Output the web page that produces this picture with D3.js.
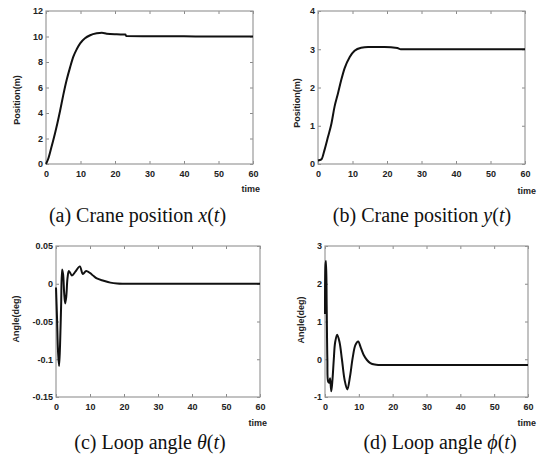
<!DOCTYPE html>
<html>
<head>
<meta charset="utf-8">
<script src="https://cdn.jsdelivr.net/npm/d3@7/dist/d3.min.js"></script>
<style>
    body { margin: 0; background: #fff; }
    .tick text { font-family: "Liberation Sans", Arial, sans-serif; font-weight: bold; font-size: 9px; fill: #222; }
    .tick line { stroke: #8a8a8a; }
    .axis-label { font-family: "Liberation Sans", Arial, sans-serif; font-weight: bold; font-size: 9px; fill: #222; }
    .caption { font-family: "Times New Roman", "Liberation Serif", "DejaVu Serif", serif; font-size: 20px; fill: #111; }
</style>
</head>
<body>
<div id="chart"></div>
<script>
const xTicks = [0, 10, 20, 30, 40, 50, 60];

// (a) crane position x(t)
const tA = [0, 0.7, 1.6, 2.6, 3.3, 4.1, 5, 6, 7, 7.9, 8.9, 9.9, 11.3, 12.8, 14.7, 16.2, 17.6, 20.5, 23, 23.3, 30, 40, 50, 60];
const xA = [0, 0.45, 1.35, 2.4, 3.2, 4.2, 5.4, 6.6, 7.6, 8.4, 9.0, 9.46, 9.86, 10.1, 10.25, 10.3, 10.22, 10.17, 10.15, 10.03, 10.02, 10.01, 10.0, 10.0];
const yTicksA = [0, 2, 4, 6, 8, 10, 12];

// (b) crane position y(t)
const tB = [0, 1, 1.9, 2.9, 3.9, 4.8, 5.8, 6.75, 7.7, 9.2, 10.6, 12.5, 14.5, 19.3, 23, 24, 30, 40, 50, 60];
const yB = [0.09, 0.12, 0.37, 0.71, 1.06, 1.5, 1.85, 2.2, 2.5, 2.8, 2.96, 3.04, 3.06, 3.06, 3.03, 3.0, 3.0, 3.0, 3.0, 3.0];
const yTicksB = [0, 1, 2, 3, 4];

// (c) loop angle theta(t)
const tC = [0, 0.3, 0.6, 0.9, 1.2, 1.5, 1.8, 2.1, 2.4, 2.7, 3.0, 3.4, 3.8, 4.7, 5.7, 7.0, 7.9, 8.9, 10.6, 12, 14, 16, 18, 20, 30, 40, 50, 60];
const thC = [-0.005, -0.045, -0.09, -0.109, -0.08, -0.03, 0.019, 0.012, -0.012, -0.026, -0.018, 0.008, 0.017, 0.011, 0.016, 0.023, 0.013, 0.017, 0.012, 0.007, 0.004, 0.0015, 0.0003, 0, 0, 0, 0, 0];
const yTicksC = [-0.15, -0.1, -0.05, 0, 0.05];

// (d) loop angle phi(t)
const tD = [0, 0.15, 0.3, 0.5, 0.7, 0.95, 1.25, 1.5, 1.85, 2.2, 2.6, 3.0, 3.6, 4.3, 5.0, 5.8, 6.6, 7.4, 8.2, 9.0, 9.8, 10.6, 11.4, 12.4, 13.4, 14.7, 16, 20, 30, 40, 50, 60];
const phD = [1.2, 2.5, 2.6, 1.4, 0.0, -0.6, -0.62, -0.5, -0.85, -0.55, 0.0, 0.45, 0.65, 0.45, 0.0, -0.55, -0.8, -0.45, 0.05, 0.38, 0.47, 0.3, 0.12, -0.02, -0.1, -0.14, -0.15, -0.15, -0.15, -0.15, -0.15, -0.15];
const yTicksD = [-1, 0, 1, 2, 3];

const panels = [
    {t: tA, v: xA, yTicks: yTicksA, ylabel: "Position(m)", box: [46, 253, 11, 164],
     ylab: [17, 100], time: [260, 192], cap: [137.5, 222], curve: d3.curveMonotoneX,
     caption: [["(a) Crane position ", false], ["x", true], ["(", false], ["t", true], [")", false]]},
    {t: tB, v: yB, yTicks: yTicksB, ylabel: "Position(m)", box: [318, 525, 11, 164],
     ylab: [297, 103], time: [536, 194], cap: [422, 222], curve: d3.curveMonotoneX,
     caption: [["(b) Crane position ", false], ["y", true], ["(", false], ["t", true], [")", false]]},
    {t: tC, v: thC, yTicks: yTicksC, ylabel: "Angle(deg)", box: [56, 260, 246, 397],
     ylab: [16, 319], time: [267, 426], cap: [150, 449], curve: d3.curveCatmullRom,
     caption: [["(c) Loop angle ", false], ["θ", true], ["(", false], ["t", true], [")", false]]},
    {t: tD, v: phD, yTicks: yTicksD, ylabel: "Angle(deg)", box: [325, 528, 246, 397],
     ylab: [301, 320], time: [536, 426], cap: [440, 449], curve: d3.curveCatmullRom,
     caption: [["(d) Loop angle ", false], ["ϕ", true], ["(", false], ["t", true], [")", false]]}
];

const svg = d3.select("#chart").append("svg")
    .attr("width", 538)
    .attr("height", 461);

panels.forEach(p => {
    const [x0, x1, y0, y1] = p.box;
    const x = d3.scaleLinear().domain([0, 60]).range([x0, x1]);
    const y = d3.scaleLinear().domain(d3.extent(p.yTicks)).range([y1, y0]);
    const g = svg.append("g");

    // inward ticks on all four sides, like a MATLAB box
    g.append("g").attr("transform", `translate(0,${y1})`)
        .call(d3.axisBottom(x).tickValues(xTicks).tickSize(-3).tickPadding(7).tickFormat(d => String(d)))
        .call(a => a.select(".domain").remove());
    g.append("g").attr("transform", `translate(0,${y0})`)
        .call(d3.axisTop(x).tickValues(xTicks).tickSize(-3).tickFormat(""))
        .call(a => a.select(".domain").remove());
    g.append("g").attr("transform", `translate(${x0},0)`)
        .call(d3.axisLeft(y).tickValues(p.yTicks).tickSize(-3).tickPadding(3).tickFormat(d => String(d)))
        .call(a => a.select(".domain").remove());
    g.append("g").attr("transform", `translate(${x1},0)`)
        .call(d3.axisRight(y).tickValues(p.yTicks).tickSize(-3).tickFormat(""))
        .call(a => a.select(".domain").remove());

    g.append("rect")
        .attr("x", x0).attr("y", y0)
        .attr("width", x1 - x0).attr("height", y1 - y0)
        .attr("fill", "none")
        .attr("stroke", "#9a9a9a")
        .attr("stroke-width", 1.2);

    const line = d3.line()
        .x((d, i) => x(p.t[i]))
        .y(d => y(d))
        .curve(p.curve);

    g.append("path")
        .attr("d", line(p.v))
        .attr("fill", "none")
        .attr("stroke", "#111")
        .attr("stroke-width", 2);

    g.append("text")
        .attr("class", "axis-label")
        .attr("transform", `translate(${p.ylab[0]},${p.ylab[1]}) rotate(-90)`)
        .attr("dy", "0.35em")
        .attr("text-anchor", "middle")
        .text(p.ylabel);

    g.append("text")
        .attr("class", "axis-label")
        .attr("x", p.time[0]).attr("y", p.time[1])
        .attr("text-anchor", "end")
        .text("time");

    const cap = g.append("text")
        .attr("class", "caption")
        .attr("x", p.cap[0]).attr("y", p.cap[1])
        .attr("text-anchor", "middle");
    p.caption.forEach(([s, it]) => {
        cap.append("tspan").attr("font-style", it ? "italic" : "normal").text(s);
    });
});
</script>
</body>
</html>
